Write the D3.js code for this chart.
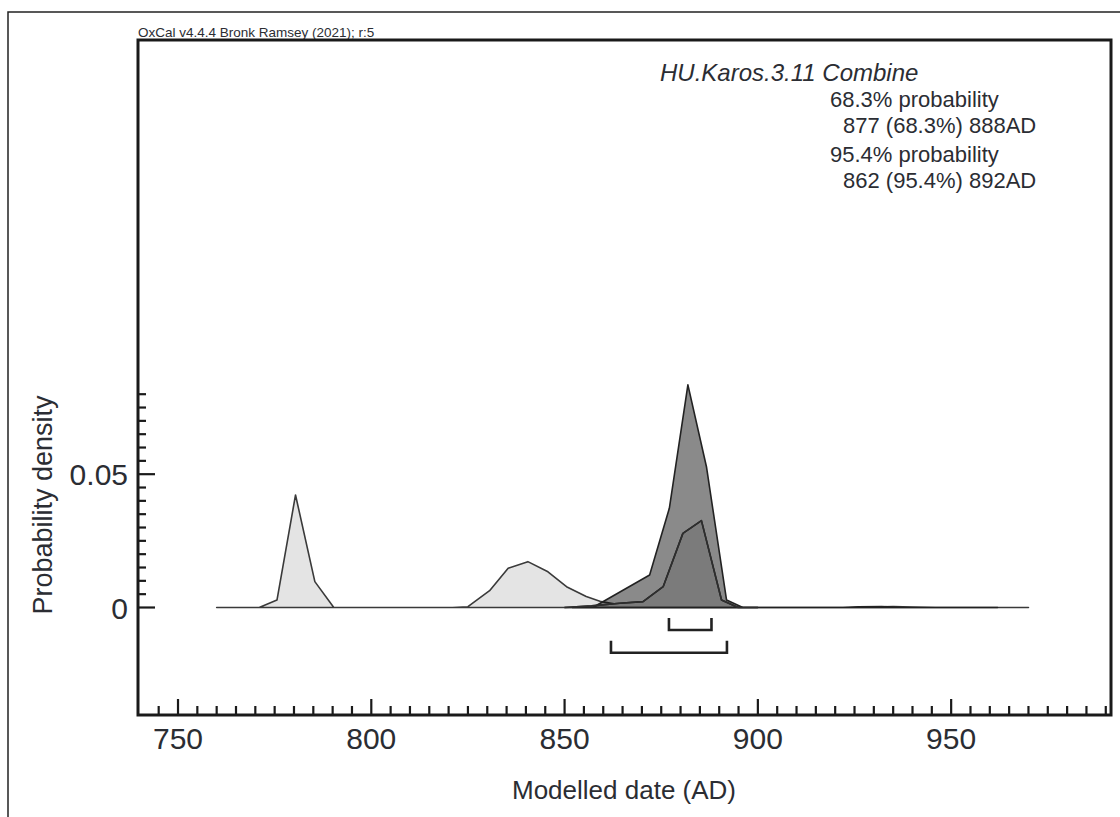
<!DOCTYPE html>
<html>
<head>
<meta charset="utf-8">
<script src="https://cdn.jsdelivr.net/npm/d3@7"></script>
<style>
  html, body { margin: 0; padding: 0; background: #fff; }
  svg { display: block; font-family: "Liberation Sans", Arial, sans-serif; }
</style>
</head>
<body>
<svg id="chart" width="1120" height="817"></svg>
<script>
// ---------- data ----------
const headerText = "OxCal v4.4.4 Bronk Ramsey (2021); r:5";
const titleText = "HU.Karos.3.11 Combine";
const statLines = ["68.3% probability", "877 (68.3%) 888AD", "95.4% probability", "862 (95.4%) 892AD"];

// first likelihood (light grey, two peaks)
const like1Years = [760, 771, 775.6, 780.4, 785.4, 790.3, 821, 825, 830.6, 835.4, 840.5, 845.7, 850.5, 855.6, 859.5, 865, 870, 880, 924, 930, 935, 940, 946, 970];
const like1Dens  = [0, 0, 0.0028, 0.0422, 0.0097, 0, 0, 0.0003, 0.0063, 0.0147, 0.0172, 0.0134, 0.0078, 0.0041, 0.0022, 0.0008, 0.0002, 0, 0, 0.0002, 0.0004, 0.0002, 0, 0];

// second likelihood (outline inside the posterior)
const like2Years = [850, 857, 864.3, 870.3, 875.5, 880.6, 885.4, 890.6, 894.9, 900];
const like2Dens  = [0, 0.0006, 0.0016, 0.0022, 0.0078, 0.0278, 0.0326, 0.0028, 0, 0];

// combined posterior (dark grey)
const postYears = [852, 857.3, 872, 877.1, 881.9, 886.7, 891.9, 896.1, 922, 926, 932, 938, 962];
const postDens  = [0, 0, 0.0122, 0.0372, 0.0835, 0.0528, 0.0028, 0, 0, 0.0003, 0.0004, 0, 0];

// highest posterior density ranges
const rangeFrom = [877, 862];
const rangeTo   = [888, 892];

// axes
const xDomain = [739.65, 991.35];
const xMajorTicks = [750, 800, 850, 900, 950];
const yMajorTicks = [0, 0.05];
const yTickLabels = ["0", "0.05"];
const xTitle = "Modelled date (AD)";
const yTitle = "Probability density";

// ---------- drawing ----------
const svg = d3.select("#chart");
const frame = {left: 138, right: 1111, top: 40, bottom: 715};

const x = d3.scaleLinear().domain(xDomain).range([frame.left, frame.right]);
const y = d3.scaleLinear().domain([0, 0.08]).range([607.5, 394.2]);

const textCol = "#2b2d33";

// outer page border
svg.append("path").attr("d", "M8,817 V12 H1120")
  .attr("fill", "none").attr("stroke", "#222").attr("stroke-width", 1.5);

// header
svg.append("text").attr("x", 138).attr("y", 36.5)
  .attr("font-size", 13.5).attr("fill", textCol).text(headerText);

const line = d3.line().x(d => x(d[0])).y(d => y(d[1]));
const zipped = (ys, ds) => ys.map((v, i) => [v, ds[i]]);

const l1 = zipped(like1Years, like1Dens);
const l2 = zipped(like2Years, like2Dens);
const po = zipped(postYears, postDens);

const closedPath = pts => line(pts) + "Z";

// likelihood 1
svg.append("path").attr("d", closedPath(l1))
  .attr("fill", "#e4e4e4").attr("stroke", "#3a3a3a").attr("stroke-width", 1.6).attr("stroke-linejoin", "round");
// likelihood 2
svg.append("path").attr("d", closedPath(l2))
  .attr("fill", "#e4e4e4").attr("stroke", "#3a3a3a").attr("stroke-width", 1.6).attr("stroke-linejoin", "round");
// posterior
svg.append("path").attr("d", closedPath(po))
  .attr("fill", "#000").attr("fill-opacity", 0.46)
  .attr("stroke", "#222").attr("stroke-width", 1.6).attr("stroke-linejoin", "round");
// likelihood 2 outline over the posterior
svg.append("path").attr("d", line(l2))
  .attr("fill", "none").attr("stroke", "#2e2e2e").attr("stroke-width", 1.6).attr("stroke-linejoin", "round");

// range brackets
const bracketY = [630, 652.7];
rangeFrom.forEach((f, i) => {
  const x0 = x(f), x1 = x(rangeTo[i]), by = bracketY[i];
  svg.append("path").attr("d", `M${x0},${by - 12} V${by} H${x1} V${by - 12}`)
    .attr("fill", "none").attr("stroke", "#222").attr("stroke-width", 2.6);
});

// frame
svg.append("rect").attr("x", frame.left).attr("y", frame.top)
  .attr("width", frame.right - frame.left).attr("height", frame.bottom - frame.top)
  .attr("fill", "none").attr("stroke", "#1a1a1a").attr("stroke-width", 3);

// x ticks every 5 years
const xTicks = d3.range(745, 991, 5);
svg.append("g").selectAll("line").data(xTicks).join("line")
  .attr("x1", d => x(d)).attr("x2", d => x(d))
  .attr("y1", frame.bottom).attr("y2", d => frame.bottom - (d % 50 === 0 ? 16 : 9))
  .attr("stroke", "#1a1a1a").attr("stroke-width", 2.2);

svg.append("g").selectAll("text").data(xMajorTicks).join("text")
  .attr("x", d => x(d)).attr("y", 749).attr("text-anchor", "middle")
  .attr("font-size", 30).attr("fill", textCol).text(d => d);

// y ticks every 0.005
const yTicks = d3.range(0, 0.0801, 0.005);
svg.append("g").selectAll("line").data(yTicks).join("line")
  .attr("x1", frame.left).attr("x2", d => frame.left + (yMajorTicks.some(m => Math.abs(m - d) < 1e-9) ? 17 : 8))
  .attr("y1", d => y(d)).attr("y2", d => y(d))
  .attr("stroke", "#1a1a1a").attr("stroke-width", 2.2);

svg.append("g").selectAll("text").data(yMajorTicks).join("text")
  .attr("x", 128).attr("y", d => y(d) + 11).attr("text-anchor", "end")
  .attr("font-size", 30).attr("fill", textCol).text((d, i) => yTickLabels[i]);

// axis titles
svg.append("text").attr("x", 624).attr("y", 799).attr("text-anchor", "middle")
  .attr("font-size", 26).attr("fill", textCol).text(xTitle);
svg.append("text").attr("transform", "translate(52,505) rotate(-90)")
  .attr("text-anchor", "middle").attr("font-size", 27).attr("fill", textCol).text(yTitle);

// title & stats
svg.append("text").attr("x", 660).attr("y", 81).attr("font-size", 24)
  .attr("font-style", "italic").attr("fill", textCol).text(titleText);
const statX = [830, 843, 830, 843];
const statY = [107, 133, 162, 188];
statLines.forEach((s, i) => {
  svg.append("text").attr("x", statX[i]).attr("y", statY[i])
    .attr("font-size", 22).attr("fill", textCol).text(s);
});
</script>
</body>
</html>
